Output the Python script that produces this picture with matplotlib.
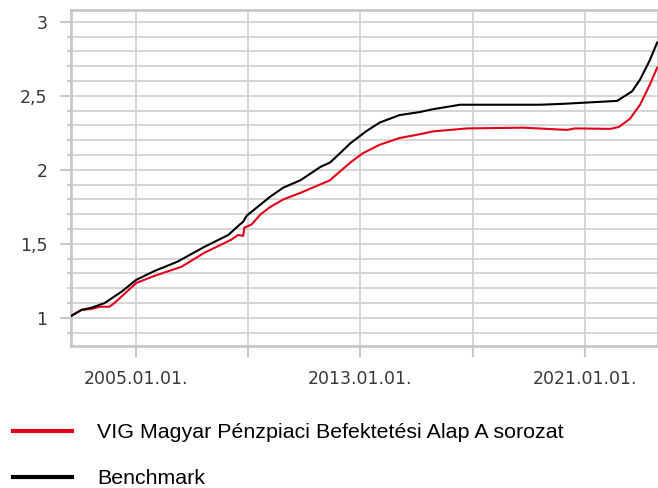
import numpy as np
import matplotlib
matplotlib.use("Agg")
from matplotlib import pyplot as plt
from matplotlib.lines import Line2D
from matplotlib.ticker import FuncFormatter, MultipleLocator

# fund (red) and benchmark (black)
fund_dates = np.array([
    '2002-09-20', '2003-01-30', '2003-06-05', '2003-09-20', '2004-01-25', '2004-04-01',
    '2005-01-10', '2005-09-05', '2006-08-20', '2007-06-15', '2008-05-25', '2008-08-25',
    '2008-11-01', '2008-11-15', '2009-02-15', '2009-06-15', '2009-10-20', '2010-04-05',
    '2010-11-15', '2011-12-05', '2012-01-15', '2012-08-25', '2013-01-25', '2013-09-10',
    '2014-05-25', '2015-02-05', '2015-08-05', '2016-10-20', '2018-10-20', '2020-05-10',
    '2020-08-20', '2021-11-25', '2022-03-15', '2022-08-05', '2022-12-15', '2023-04-20',
    '2023-07-25'], dtype='datetime64[D]')
fund_values = [
    1.014, 1.054, 1.060, 1.075, 1.075, 1.100,
    1.236, 1.284, 1.345, 1.440, 1.527, 1.560,
    1.554, 1.610, 1.630, 1.700, 1.750, 1.800,
    1.845, 1.930, 1.950, 2.050, 2.110, 2.170,
    2.215, 2.240, 2.260, 2.280, 2.285, 2.270,
    2.280, 2.277, 2.290, 2.345, 2.440, 2.575,
    2.690]

bench_dates = np.array([
    '2002-09-20', '2003-01-30', '2003-06-05', '2003-11-25', '2004-07-01', '2005-01-10',
    '2005-09-05', '2006-07-01', '2007-06-15', '2008-04-20', '2008-09-15', '2008-11-01',
    '2008-12-15', '2009-10-20', '2010-04-05', '2010-11-15', '2011-08-01', '2011-12-05',
    '2012-02-05', '2012-08-25', '2013-03-15', '2013-09-10', '2014-05-25', '2015-02-05',
    '2015-08-05', '2016-07-20', '2019-05-25', '2020-03-15', '2020-08-05', '2022-02-20',
    '2022-09-01', '2022-12-15', '2023-04-20', '2023-07-25'], dtype='datetime64[D]')
bench_values = [
    1.014, 1.054, 1.068, 1.100, 1.176, 1.257,
    1.317, 1.380, 1.480, 1.560, 1.630, 1.650,
    1.690, 1.820, 1.880, 1.930, 2.020, 2.050,
    2.080, 2.180, 2.260, 2.320, 2.370, 2.390,
    2.410, 2.440, 2.440, 2.446, 2.450, 2.466,
    2.530, 2.610, 2.740, 2.860]

tick_dates = np.array(['2005-01-01', '2009-01-01', '2013-01-01', '2017-01-01', '2021-01-01'],
                      dtype='datetime64[D]')
tick_labels = ['2005.01.01.', '', '2013.01.01.', '', '2021.01.01.']

labels = ['VIG Magyar Pénzpiaci Befektetési Alap A sorozat', 'Benchmark']
colors = ['#e2001a', '#000000']

grid_c = '#d2d2d2'

fig = plt.figure(figsize=(6.58, 4.88), dpi=100)
ax = fig.add_axes([71/658, 1 - 346/488, 1 - 71/658, 336/488])

ax.plot(fund_dates.astype('datetime64[ms]').astype(object), fund_values, color=colors[0], lw=1.5, zorder=3)
ax.plot(bench_dates.astype('datetime64[ms]').astype(object), bench_values, color=colors[1], lw=1.5, zorder=4)

ax.set_xlim(np.datetime64('2002-09-15').astype(object), np.datetime64('2023-08-05').astype(object))
ax.set_ylim(0.81, 3.08)

ax.set_xticks(tick_dates.astype(object))
ax.set_xticklabels(tick_labels)
ax.yaxis.set_major_locator(MultipleLocator(0.5))
ax.yaxis.set_minor_locator(MultipleLocator(0.1))
ax.yaxis.set_major_formatter(FuncFormatter(lambda v, p: ('%g' % v).replace('.', ',')))

ax.grid(True, which='both', color=grid_c, lw=1.3, zorder=0)
ax.set_axisbelow(True)
for s in ax.spines.values():
    s.set_color('#c8c8c8')
    s.set_linewidth(2)

ax.tick_params(axis='both', which='major', length=8, width=1.5, color='#c8c8c8',
               labelsize=12.5, labelcolor='#383838', pad=9)
ax.tick_params(axis='y', which='minor', length=3, width=1.3, color='#c8c8c8')

handles = [Line2D([], [], color=c, lw=3) for c in colors]
fig.legend(handles, labels, loc='upper left', bbox_to_anchor=(13/658, 1 - 423/488),
           frameon=False, borderpad=0, borderaxespad=0, handlelength=2.75, handletextpad=1.2,
           labelspacing=1.28, prop={'family': 'Liberation Sans', 'size': 15.4})

fig.savefig('out.png', dpi=100)
